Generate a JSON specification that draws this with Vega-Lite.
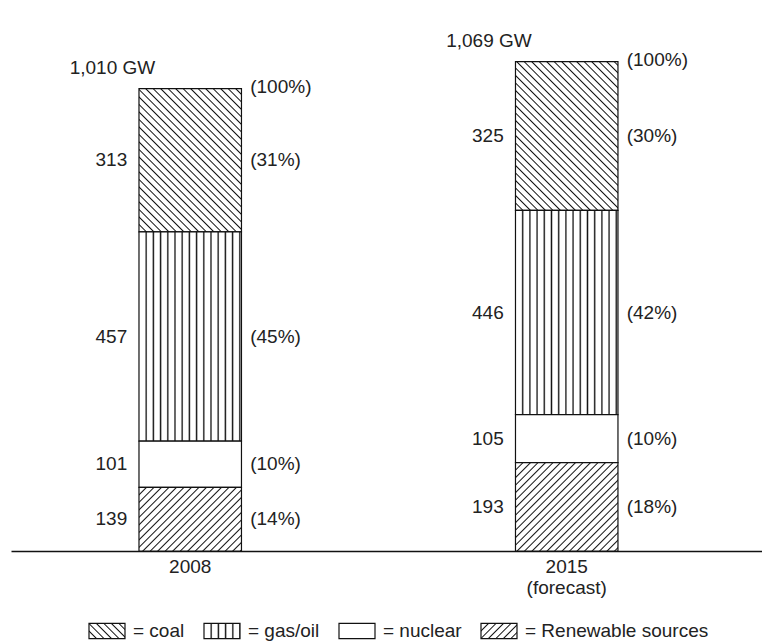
{
  "$schema": "https://vega.github.io/schema/vega-lite/v6.json",
  "width": 751,
  "height": 531,
  "autosize": {"type": "none"},
  "padding": {"left": 11, "top": 20, "right": 0, "bottom": 92},
  "background": "white",
  "params": [
    {"name": "hs", "value": [
      {"offset":0.0203,"color":"#fff"},{"offset":0.025,"color":"#111"},{"offset":0.0297,"color":"#fff"},
      {"offset":0.0453,"color":"#fff"},{"offset":0.05,"color":"#111"},{"offset":0.0547,"color":"#fff"},
      {"offset":0.0703,"color":"#fff"},{"offset":0.075,"color":"#111"},{"offset":0.0797,"color":"#fff"},
      {"offset":0.0953,"color":"#fff"},{"offset":0.1,"color":"#111"},{"offset":0.1047,"color":"#fff"},
      {"offset":0.1203,"color":"#fff"},{"offset":0.125,"color":"#111"},{"offset":0.1297,"color":"#fff"},
      {"offset":0.1453,"color":"#fff"},{"offset":0.15,"color":"#111"},{"offset":0.1547,"color":"#fff"},
      {"offset":0.1703,"color":"#fff"},{"offset":0.175,"color":"#111"},{"offset":0.1797,"color":"#fff"},
      {"offset":0.1953,"color":"#fff"},{"offset":0.2,"color":"#111"},{"offset":0.2047,"color":"#fff"},
      {"offset":0.2203,"color":"#fff"},{"offset":0.225,"color":"#111"},{"offset":0.2297,"color":"#fff"},
      {"offset":0.2453,"color":"#fff"},{"offset":0.25,"color":"#111"},{"offset":0.2547,"color":"#fff"},
      {"offset":0.2703,"color":"#fff"},{"offset":0.275,"color":"#111"},{"offset":0.2797,"color":"#fff"},
      {"offset":0.2953,"color":"#fff"},{"offset":0.3,"color":"#111"},{"offset":0.3047,"color":"#fff"},
      {"offset":0.3203,"color":"#fff"},{"offset":0.325,"color":"#111"},{"offset":0.3297,"color":"#fff"},
      {"offset":0.3453,"color":"#fff"},{"offset":0.35,"color":"#111"},{"offset":0.3547,"color":"#fff"},
      {"offset":0.3703,"color":"#fff"},{"offset":0.375,"color":"#111"},{"offset":0.3797,"color":"#fff"},
      {"offset":0.3953,"color":"#fff"},{"offset":0.4,"color":"#111"},{"offset":0.4047,"color":"#fff"},
      {"offset":0.4203,"color":"#fff"},{"offset":0.425,"color":"#111"},{"offset":0.4297,"color":"#fff"},
      {"offset":0.4453,"color":"#fff"},{"offset":0.45,"color":"#111"},{"offset":0.4547,"color":"#fff"},
      {"offset":0.4703,"color":"#fff"},{"offset":0.475,"color":"#111"},{"offset":0.4797,"color":"#fff"},
      {"offset":0.4953,"color":"#fff"},{"offset":0.5,"color":"#111"},{"offset":0.5047,"color":"#fff"},
      {"offset":0.5203,"color":"#fff"},{"offset":0.525,"color":"#111"},{"offset":0.5297,"color":"#fff"},
      {"offset":0.5453,"color":"#fff"},{"offset":0.55,"color":"#111"},{"offset":0.5547,"color":"#fff"},
      {"offset":0.5703,"color":"#fff"},{"offset":0.575,"color":"#111"},{"offset":0.5797,"color":"#fff"},
      {"offset":0.5953,"color":"#fff"},{"offset":0.6,"color":"#111"},{"offset":0.6047,"color":"#fff"},
      {"offset":0.6203,"color":"#fff"},{"offset":0.625,"color":"#111"},{"offset":0.6297,"color":"#fff"},
      {"offset":0.6453,"color":"#fff"},{"offset":0.65,"color":"#111"},{"offset":0.6547,"color":"#fff"},
      {"offset":0.6703,"color":"#fff"},{"offset":0.675,"color":"#111"},{"offset":0.6797,"color":"#fff"},
      {"offset":0.6953,"color":"#fff"},{"offset":0.7,"color":"#111"},{"offset":0.7047,"color":"#fff"},
      {"offset":0.7203,"color":"#fff"},{"offset":0.725,"color":"#111"},{"offset":0.7297,"color":"#fff"},
      {"offset":0.7453,"color":"#fff"},{"offset":0.75,"color":"#111"},{"offset":0.7547,"color":"#fff"},
      {"offset":0.7703,"color":"#fff"},{"offset":0.775,"color":"#111"},{"offset":0.7797,"color":"#fff"},
      {"offset":0.7953,"color":"#fff"},{"offset":0.8,"color":"#111"},{"offset":0.8047,"color":"#fff"},
      {"offset":0.8203,"color":"#fff"},{"offset":0.825,"color":"#111"},{"offset":0.8297,"color":"#fff"},
      {"offset":0.8453,"color":"#fff"},{"offset":0.85,"color":"#111"},{"offset":0.8547,"color":"#fff"},
      {"offset":0.8703,"color":"#fff"},{"offset":0.875,"color":"#111"},{"offset":0.8797,"color":"#fff"},
      {"offset":0.8953,"color":"#fff"},{"offset":0.9,"color":"#111"},{"offset":0.9047,"color":"#fff"},
      {"offset":0.9203,"color":"#fff"},{"offset":0.925,"color":"#111"},{"offset":0.9297,"color":"#fff"},
      {"offset":0.9453,"color":"#fff"},{"offset":0.95,"color":"#111"},{"offset":0.9547,"color":"#fff"},
      {"offset":0.9703,"color":"#fff"},{"offset":0.975,"color":"#111"},{"offset":0.9797,"color":"#fff"}
    ]}
  ],
  "data": {"values": [
    {"year": "2008", "source": "coal", "gw": 313, "pct": 31, "order": 4},
    {"year": "2008", "source": "gas/oil", "gw": 457, "pct": 45, "order": 3},
    {"year": "2008", "source": "nuclear", "gw": 101, "pct": 10, "order": 2},
    {"year": "2008", "source": "Renewable sources", "gw": 139, "pct": 14, "order": 1},
    {"year": "2015", "source": "coal", "gw": 325, "pct": 30, "order": 4},
    {"year": "2015", "source": "gas/oil", "gw": 446, "pct": 42, "order": 3},
    {"year": "2015", "source": "nuclear", "gw": 105, "pct": 10, "order": 2},
    {"year": "2015", "source": "Renewable sources", "gw": 193, "pct": 18, "order": 1}
  ]},
  "transform": [
    {"stack": "gw", "groupby": ["year"], "sort": [{"field": "order", "order": "ascending"}], "as": ["v0", "v1"]},
    {"calculate": "(datum.v0 + datum.v1) / 2", "as": "mid"},
    {"calculate": "'(' + datum.pct + '%)'", "as": "pctLabel"}
  ],
  "layer": [
    {
      "mark": {
        "type": "bar",
        "strokeWidth": 1.2,
        "stroke": "#111",
        "fill": {"expr": "datum.source==='nuclear' ? '#ffffff' : datum.source==='gas/oil' ? {gradient:'linear',x1:0,y1:0,x2:288/bandwidth('x'),y2:0,stops:hs} : datum.source==='coal' ? {gradient:'linear',x1:0,y1:1,x2:300*bandwidth('x')/(pow(bandwidth('x'),2)+pow(scale('y',datum.v0)-scale('y',datum.v1),2)),y2:1-300*abs(scale('y',datum.v0)-scale('y',datum.v1))/(pow(bandwidth('x'),2)+pow(scale('y',datum.v0)-scale('y',datum.v1),2)),stops:hs} : {gradient:'linear',x1:0,y1:0,x2:300*bandwidth('x')/(pow(bandwidth('x'),2)+pow(scale('y',datum.v0)-scale('y',datum.v1),2)),y2:300*abs(scale('y',datum.v0)-scale('y',datum.v1))/(pow(bandwidth('x'),2)+pow(scale('y',datum.v0)-scale('y',datum.v1),2)),stops:hs}"}
      },
      "encoding": {
        "x": {
          "field": "year", "type": "nominal",
          "scale": {"type": "band", "paddingInner": 0.7278, "paddingOuter": 0.36125, "align": 0.4705},
          "axis": {
            "title": null, "ticks": false, "tickSize": 0, "labelAngle": 0,
            "domainColor": "#111", "domainWidth": 1.3,
            "labelFont": "Liberation Sans", "labelFontSize": 19, "labelColor": "#222",
            "labelPadding": 6, "labelLineHeight": 21, "labelBaseline": "top",
            "labelExpr": "datum.value == '2015' ? ['2015', '(forecast)'] : datum.label"
          }
        },
        "y": {"field": "v1", "type": "quantitative", "scale": {"domain": [0, 1160], "nice": false}, "axis": null},
        "y2": {"field": "v0"}
      }
    },
    {
      "mark": {"type": "bar", "opacity": 0},
      "encoding": {
        "x": {"field": "year", "type": "nominal"},
        "y": {"field": "v1", "type": "quantitative", "axis": null},
        "y2": {"field": "v0"},
        "fill": {
          "field": "source", "type": "nominal",
          "scale": {
            "domain": ["coal", "gas/oil", "nuclear", "Renewable sources"],
            "range": [
              {"expr": "{gradient:'linear',x1:0,y1:1,x2:7.08,y2:-1.975,stops:hs}"},
              {"expr": "{gradient:'linear',x1:0,y1:0,x2:8,y2:0,stops:hs}"},
              "#ffffff",
              {"expr": "{gradient:'linear',x1:0,y1:0,x2:7.08,y2:2.975,stops:hs}"}
            ]
          },
          "legend": {
            "orient": "none", "legendX": 77, "legendY": 592, "direction": "horizontal",
            "title": null, "padding": 0,
            "labelExpr": "'= ' + datum.label",
            "labelFont": "Liberation Sans", "labelFontSize": 19, "labelColor": "#222", "labelLimit": 400,
            "symbolType": "M-1,-0.42H1V0.42H-1Z", "symbolSize": 1296,
            "symbolStrokeColor": "#111", "symbolStrokeWidth": 1.2, "symbolOpacity": 1,
            "columnPadding": 16, "labelOffset": 7
          }
        }
      }
    },
    {
      "mark": {"type": "text", "align": "right", "baseline": "middle", "dx": -63, "font": "Liberation Sans", "fontSize": 19, "color": "#222"},
      "encoding": {
        "x": {"field": "year", "type": "nominal"},
        "y": {"field": "mid", "type": "quantitative", "axis": null},
        "text": {"field": "gw", "type": "quantitative"}
      }
    },
    {
      "mark": {"type": "text", "align": "left", "baseline": "middle", "dx": 60, "font": "Liberation Sans", "fontSize": 19, "color": "#222"},
      "encoding": {
        "x": {"field": "year", "type": "nominal"},
        "y": {"field": "mid", "type": "quantitative", "axis": null},
        "text": {"field": "pctLabel", "type": "nominal"}
      }
    },
    {
      "transform": [
        {"aggregate": [{"op": "sum", "field": "gw", "as": "total"}], "groupby": ["year"]},
        {"calculate": "format(datum.total, ',') + ' GW'", "as": "totLabel"}
      ],
      "mark": {"type": "text", "align": "right", "baseline": "middle", "dx": -35, "dy": -21, "font": "Liberation Sans", "fontSize": 19, "color": "#222"},
      "encoding": {
        "x": {"field": "year", "type": "nominal"},
        "y": {"field": "total", "type": "quantitative", "axis": null},
        "text": {"field": "totLabel", "type": "nominal"}
      }
    },
    {
      "transform": [
        {"aggregate": [{"op": "sum", "field": "gw", "as": "total"}], "groupby": ["year"]}
      ],
      "mark": {"type": "text", "align": "left", "baseline": "middle", "dx": 60, "dy": -2, "font": "Liberation Sans", "fontSize": 19, "color": "#222", "text": "(100%)"},
      "encoding": {
        "x": {"field": "year", "type": "nominal"},
        "y": {"field": "total", "type": "quantitative", "axis": null}
      }
    }
  ],
  "config": {"view": {"stroke": null}}
}
